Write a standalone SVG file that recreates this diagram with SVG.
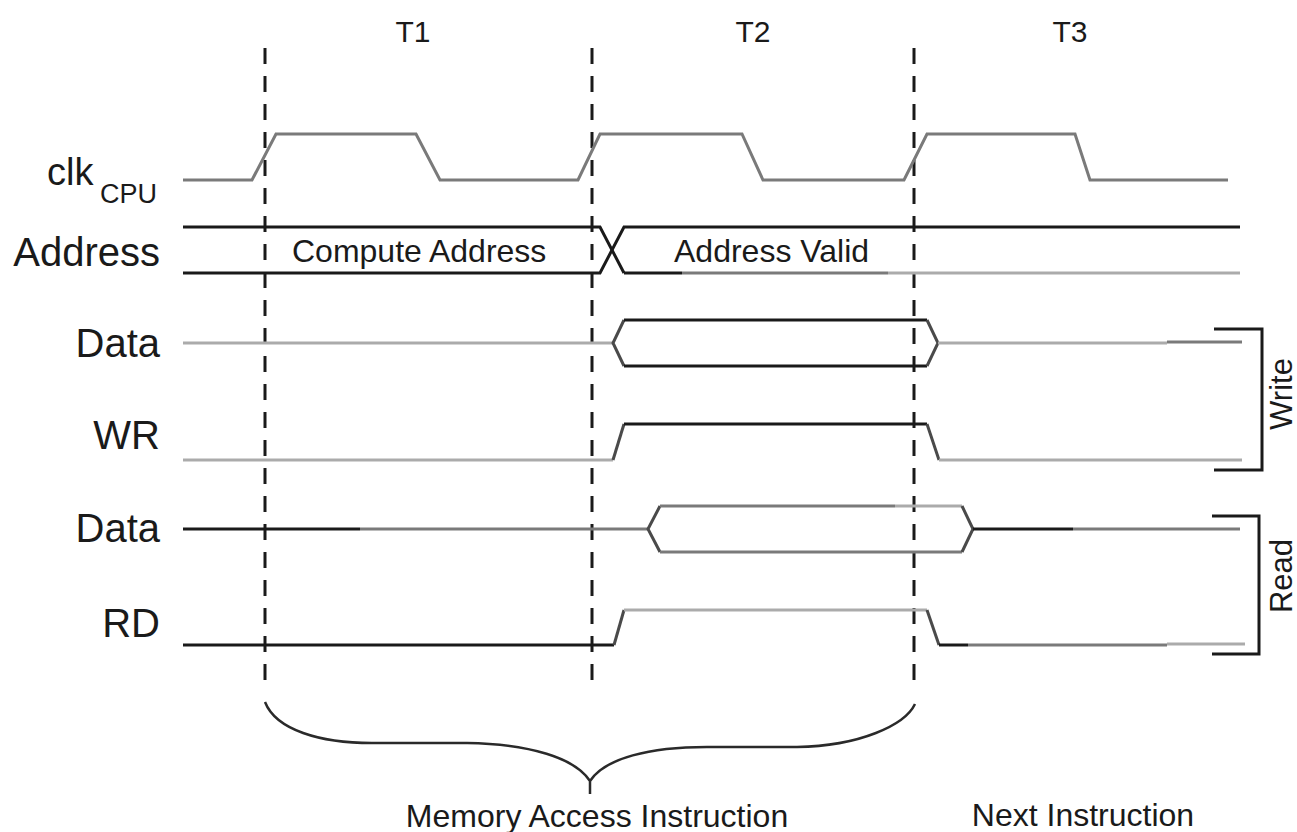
<svg xmlns="http://www.w3.org/2000/svg" width="1297" height="832" viewBox="0 0 1297 832">
<style>
text{font-family:"Liberation Sans",Arial,sans-serif;fill:#1a1a1a}
.lbl{font-size:40px;text-anchor:end}
.in{font-size:32px}
.s{fill:none;stroke-width:3;stroke-linejoin:miter}
.k{stroke:#1a1a1a}
.g{stroke:#ababab}
.m{stroke:#7a7a7a}
.e{stroke:#4a4a4a}
.dash{fill:none;stroke:#1a1a1a;stroke-width:3;stroke-dasharray:16 12}
</style>
<rect width="1297" height="832" fill="#fff"/>
<g id="period-labels" class="in">
<text x="413" y="42" text-anchor="middle" font-size="30">T1</text>
<text x="753" y="42" text-anchor="middle" font-size="30">T2</text>
<text x="1070" y="42" text-anchor="middle" font-size="30">T3</text>
</g>
<g id="boundaries">
<line class="dash" x1="265" y1="48" x2="265" y2="690"/>
<line class="dash" x1="592" y1="48" x2="592" y2="690"/>
<line class="dash" x1="914" y1="48" x2="914" y2="690"/>
</g>
<g id="clk">
<text x="47" y="185" font-size="38">clk</text>
<text x="100" y="203" font-size="27">CPU</text>
<polyline class="s m" points="183,180 252,180 276,134 416,134 440,180 578,180 600,134 742,134 763,180 904,180 927,134 1075,134 1090,180 1228,180"/>
</g>
<g id="address">
<text class="lbl" x="160" y="266">Address</text>
<polyline class="s k" points="183,227 600,227 624,273"/>
<polyline class="s k" points="183,273 600,273 624,227 1240,227"/>
<polyline class="s k" points="624,273 682,273"/>
<line class="s m" x1="682" y1="273" x2="888" y2="273"/>
<line class="s g" x1="888" y1="273" x2="1240" y2="273"/>
<text class="in" x="292" y="262">Compute Address</text>
<text class="in" x="674" y="262">Address Valid</text>
</g>
<g id="data-write">
<text class="lbl" x="160" y="357">Data</text>
<line class="s g" x1="183" y1="343" x2="613" y2="343"/>
<polyline class="s e" points="624,320 613,343 624,366"/>
<line class="s k" x1="624" y1="320" x2="927" y2="320"/>
<line class="s k" x1="624" y1="366" x2="927" y2="366"/>
<polyline class="s e" points="927,320 938,343 927,366"/>
<line class="s g" x1="938" y1="343" x2="1167" y2="343"/>
<line class="s m" x1="1167" y1="342" x2="1242" y2="342"/>
</g>
<g id="wr">
<text class="lbl" x="160" y="449">WR</text>
<line class="s g" x1="183" y1="460" x2="613" y2="460"/>
<line class="s e" x1="613" y1="460" x2="624" y2="424"/>
<line class="s k" x1="624" y1="424" x2="927" y2="424"/>
<line class="s e" x1="927" y1="424" x2="939" y2="460"/>
<line class="s g" x1="939" y1="460" x2="1242" y2="460"/>
</g>
<g id="data-read">
<text class="lbl" x="160" y="542">Data</text>
<line class="s k" x1="183" y1="529" x2="360" y2="529"/>
<line class="s m" x1="360" y1="529" x2="648" y2="529"/>
<polyline class="s e" points="660,506 648,529 660,552"/>
<line class="s m" x1="660" y1="506" x2="895" y2="506"/>
<line class="s g" x1="895" y1="506" x2="962" y2="506"/>
<line class="s m" x1="660" y1="552" x2="962" y2="552"/>
<polyline class="s e" points="962,506 973,529 962,552"/>
<line class="s k" x1="973" y1="529" x2="1073" y2="529"/>
<line class="s m" x1="1073" y1="529" x2="1240" y2="529"/>
</g>
<g id="rd">
<text class="lbl" x="160" y="637">RD</text>
<line class="s k" x1="183" y1="645" x2="614" y2="645"/>
<line class="s e" x1="614" y1="645" x2="624" y2="610"/>
<line class="s g" x1="624" y1="610" x2="927" y2="610"/>
<line class="s e" x1="927" y1="610" x2="939" y2="645"/>
<line class="s k" x1="939" y1="645" x2="968" y2="645"/>
<line class="s m" x1="968" y1="645" x2="1167" y2="645"/>
<line class="s g" x1="1167" y1="644" x2="1245" y2="644"/>
</g>
<g id="write-bracket">
<polyline class="s k" points="1214,329 1262,329 1262,470 1214,470"/>
<text transform="translate(1292,394) rotate(-90)" text-anchor="middle" font-size="31">Write</text>
</g>
<g id="read-bracket">
<polyline class="s k" points="1212,516 1259,516 1259,654 1212,654"/>
<text transform="translate(1292,576) rotate(-90)" text-anchor="middle" font-size="31">Read</text>
</g>
<g id="memory-access-brace">
<path fill="none" stroke="#2a2a2a" stroke-width="2.5" d="M265,702 C276,730 320,743 372,743 L467,743 C530,744 575,758 590,781 C605,758 650,747 707,747 L797,747 C860,746 905,725 915,704 M590,781 L590,794"/>
<text class="in" x="597" y="827" text-anchor="middle">Memory Access Instruction</text>
</g>
<g id="next-instruction">
<text class="in" x="1083" y="826" text-anchor="middle">Next Instruction</text>
</g>
</svg>
